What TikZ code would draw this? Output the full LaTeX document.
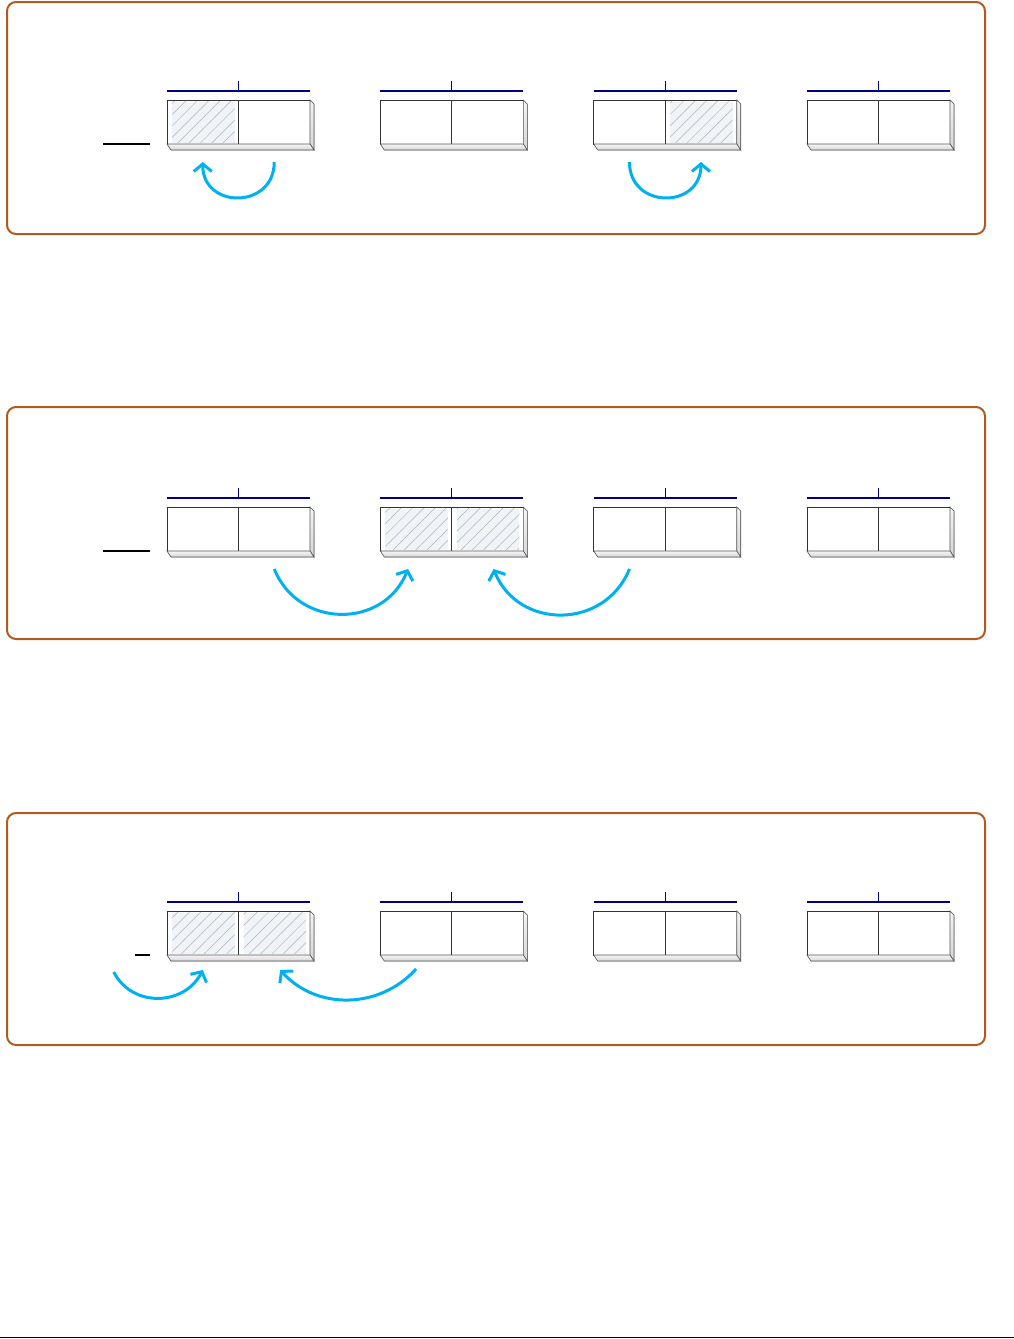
\documentclass[tikz,border=0pt]{standalone}
\usepackage{xcolor}
\usepackage{tikz}
\usetikzlibrary{positioning,arrows.meta,calc,patterns.meta}
\definecolor{marron}{RGB}{178,90,30}
\definecolor{marino}{RGB}{0,0,128}
\definecolor{celeste}{RGB}{0,176,240}
\definecolor{fondotrama}{RGB}{240,243,248}
\tikzset{
  marco/.style   = {draw=marron, line width=2pt, rounded corners=9pt,
                    minimum width=978pt, minimum height=232pt, inner sep=0pt},
  celda/.style   = {draw=black!80, line width=0.9pt, minimum width=71.5pt,
                    minimum height=44pt, inner sep=0pt, outer sep=0pt, anchor=north west},
  cara/.style    = {draw=black!65, line width=0.6pt, top color=black!4, bottom color=black!16},
  trama/.style   = {fill=fondotrama, postaction={pattern={Lines[angle=45,distance=8pt,line width=0.5pt]},
                    pattern color=black!30}},
  regla/.style   = {draw=marino, line width=2pt},
  muesca/.style  = {draw=marino, line width=1pt},
  guion/.style   = {draw=black, line width=1.2pt},
  flecha/.style  = {draw=celeste, line width=3pt, -{Straight Barb[length=7.5pt,width=18pt]}}
}
\begin{document}
\begin{tikzpicture}[x=1pt,y=1pt]
    \useasboundingbox (0,0) rectangle (1014,-1339);

    \foreach \p/\my/\cy in {1/118/100, 2/523/507, 3/929/911} {
      \node[marco] (marco\p) at (496,-\my) {};
      \foreach \b/\cx in {1/167, 2/380.3, 3/593.7, 4/807} {
        \node[celda] (c\p\b-l) at (\cx,-\cy) {};
        \node[celda] (c\p\b-r) at (c\p\b-l.north east) {};
        \filldraw[cara] (c\p\b-r.north east) -- ++(4,-4) -- ++(0,-46) -- (c\p\b-r.south east) -- cycle;
        \filldraw[cara] (c\p\b-l.south west) -- (c\p\b-r.south east) -- ++(4,-6)
                        -- ($(c\p\b-l.south west)+(4,-6)$) -- cycle;
        \draw[regla] ([yshift=9pt]c\p\b-l.north west) -- ([yshift=9pt]c\p\b-r.north east);
        \draw[muesca] ([yshift=9pt]c\p\b-l.north east) -- ++(0,10);
      }
    }

    \foreach \c in {c11-l, c13-r, c22-l, c22-r, c31-l, c31-r}
      \path[trama] ($(\c.north west)+(5,-1.5)$) rectangle ($(\c.south east)+(-4,1.5)$);

    \draw[guion] ([xshift=-17pt]c11-l.south west) -- ++(-47,0);
    \draw[guion] ([xshift=-17pt]c21-l.south west) -- ++(-47,0);
    \draw[guion] ([xshift=-17pt]c31-l.south west) -- ++(-15,0);

    \coordinate (f1a) at ([yshift=-18pt]c11-r.south);
    \coordinate (f1b) at ([yshift=-18pt]c11-l.south);
    \coordinate (f2a) at ([yshift=-18pt]c13-l.south);
    \coordinate (f2b) at ([yshift=-18pt]c13-r.south);
    \coordinate (f3a) at ([yshift=-18pt]c21-r.south);
    \coordinate (f3b) at ([xshift=-8pt,yshift=-18pt]c22-l.south);
    \coordinate (f4a) at ([yshift=-18pt]c23-l.south);
    \coordinate (f4b) at ([xshift=6pt,yshift=-18pt]c22-r.south);
    \coordinate (f5a) at ([xshift=-89pt,yshift=-17pt]c31-l.south);
    \coordinate (f5b) at ([yshift=-15pt]c31-l.south);
    \coordinate (f6a) at ([yshift=-14pt]c32-l.south);
    \coordinate (f6b) at ([xshift=6pt,yshift=-15pt]c31-r.south);

    \draw[flecha] (f1a) to[out=-90, in=-90, looseness=1.7] (f1b);
    \draw[flecha] (f2a) to[out=-90, in=-90, looseness=1.7] (f2b);
    \draw[flecha] (f3a) to[out=-68, in=-112, looseness=1.24] (f3b);
    \draw[flecha] (f4a) to[out=-112, in=-68, looseness=1.24] (f4b);
    \draw[flecha] (f5a) to[out=-63, in=-117, looseness=1.16] (f5b);
    \draw[flecha] (f6a) to[out=-132, in=-48, looseness=1.02] (f6b);

    \draw[line width=1pt] (0,-1337.5) -- (1014,-1337.5);
  \end{tikzpicture}
\end{document}
